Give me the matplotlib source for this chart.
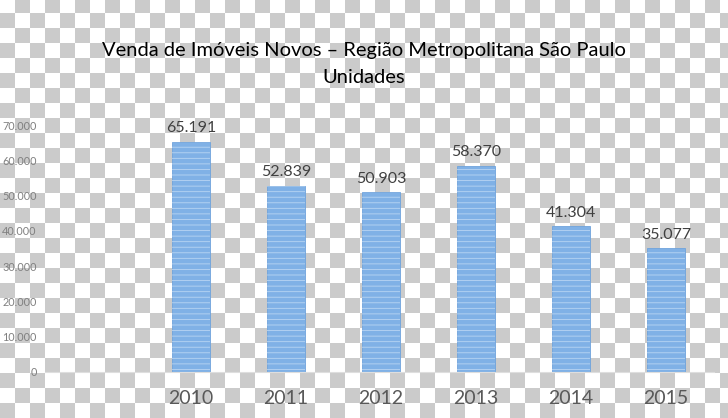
import numpy as np
import matplotlib
matplotlib.use('Agg')
import matplotlib.pyplot as plt

# data
years = ['2010', '2011', '2012', '2013', '2014', '2015']
units = [65191, 52839, 50903, 58370, 41304, 35077]
unit_labels = ['65.191', '52.839', '50.903', '58.370', '41.304', '35.077']
yticks = [0, 10000, 20000, 30000, 40000, 50000, 60000, 70000]
ytick_labels = ['0', '10.000', '20.000', '30.000', '40.000', '50.000', '60.000', '70.000']
title_lines = ['Venda de Imóveis Novos – Região Metropolitana São Paulo', 'Unidades']

plt.rcParams['font.family'] = ['Lato', 'DejaVu Sans']
plt.rcParams['hatch.linewidth'] = 0.6

W, H = 728, 418
fig = plt.figure(figsize=(W / 100, H / 100), dpi=100)

# transparency checkerboard behind everything
cols = np.arange(W) // 15
rows = (np.arange(H) + 2) // 15
odd = (rows[:, None] + cols[None, :]) % 2 == 1
bg = np.where(odd[..., None], 203, 255).repeat(3, axis=2).astype(np.uint8)
bgax = fig.add_axes([0, 0, 1, 1], zorder=-1)
bgax.imshow(bg, aspect='auto', interpolation='nearest')
bgax.axis('off')

ax = fig.add_axes([45 / W, (H - 372) / H, (713.5 - 45) / W, (372 - 125) / H])
ax.patch.set_alpha(0)
x = np.arange(len(years))
ax.bar(x, units, width=0.39, color='#80b1e6', edgecolor='#6fa3dc', linewidth=0.6)
ax.bar(x, units, width=0.39, facecolor='none', edgecolor='#b9d5f3', hatch='---', linewidth=0)

for xi, v, lab in zip(x, units, unit_labels):
    ax.annotate(lab, (xi, v), xytext=(0, 7), textcoords='offset points',
                ha='center', va='baseline', fontsize=11.5, color='#404040')

ax.set_xlim(-1.537, 5.5)
ax.set_ylim(0, 70000)
ax.set_xticks(x)
ax.set_xticklabels(years, fontsize=14, color='#595959')
ax.set_yticks(yticks)
ax.set_yticklabels(ytick_labels, fontsize=7.8, color='#808080')
ax.tick_params(length=0)
ax.tick_params(axis='x', pad=13)
ax.tick_params(axis='y', pad=6)
for s in ['top', 'right', 'left']:
    ax.spines[s].set_visible(False)
ax.spines['bottom'].set_color('#dedede')
ax.spines['bottom'].set_linewidth(0.8)

fig.text(364 / W, 1 - 56 / H, title_lines[0], ha='center', va='baseline',
         fontsize=14.5, color='#000000')
fig.text(364 / W, 1 - 83 / H, title_lines[1], ha='center', va='baseline',
         fontsize=14.5, color='#000000')

fig.savefig('out.png', dpi=100)
